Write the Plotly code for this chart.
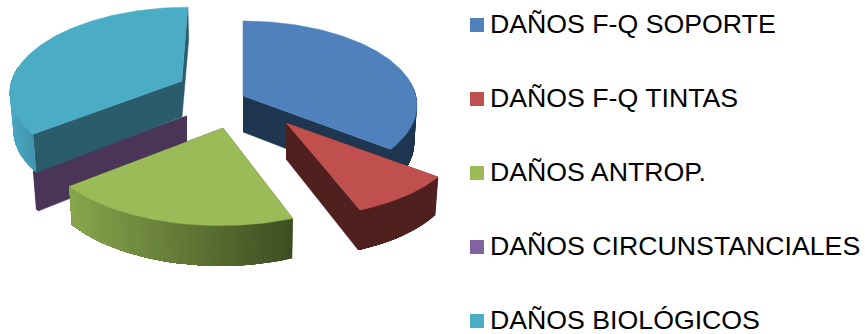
import numpy as np
import plotly.graph_objects as go

# ---- data ----
categories = ["DAÑOS F-Q SOPORTE", "DAÑOS F-Q TINTAS", "DAÑOS ANTROP.",
              "DAÑOS CIRCUNSTANCIALES", "DAÑOS BIOLÓGICOS"]
values = [35.3, 8.9, 20.1, 0.3, 35.4]

# ---- styles ----
top_colors = ["#4f81bd", "#c0504d", "#9bbb59", "#8064a2", "#4bacc6"]
cut_colors = ["#1e3650", "#4f201e", "#55692f", "#4a3558", "#2a5c6c"]
rim_left = ["#1e3650", "#4f201e", "#88a64c", "#4a3558", "#4aa8c3"]
rim_right = ["#1e3650", "#4f201e", "#3d4d22", "#4a3558", "#3f95ad"]
apex_x = [243, 286, 223, 187, 182]
apex_y = [96, 123, 128, 116, 81]
scale = [1.0, 1.01, 1.05, 1.02, 0.985]
draw_order = [3, 4, 0, 1, 2]
RX, RY, K, DEPTH, VX = 173, 83, 0.107, 36, 243
legend_x, legend_y = 477, [25, 99, 173, 247, 321]
text_y = [23.5, 97.5, 171.5, 245.5, 319.5]
FONT = "Liberation Sans"


def hex2rgb(c):
    return np.array([int(c[i:i + 2], 16) for i in (1, 3, 5)], float)


def mix(a, b, t):
    r = hex2rgb(a) * (1 - t) + hex2rgb(b) * t
    return "rgb(%d,%d,%d)" % tuple(r.round())


def top(i, th):
    th = np.radians(th)
    u, v = np.sin(th), np.cos(th)
    w = 1 / (1 + K * v)
    x = VX + (apex_x[i] - VX + RX * scale[i] * u) * w
    y = apex_y[i] - RY * scale[i] * v * w
    return x, y


def bottom(i, th, x, y):
    v = np.cos(np.radians(th))
    w = 1 / (1 + K * v)
    return x + (VX - x) * 0.015, y + DEPTH * w


def poly(fig, xs, ys, color, edge=0):
    fig.add_trace(go.Scatter(
        x=list(xs), y=list(ys), mode="lines", fill="toself", fillcolor=color,
        line=dict(color=color, width=edge), hoverinfo="skip", showlegend=False))


fig = go.Figure()
total = sum(values)
edges = np.concatenate([[0], np.cumsum(values)]) / total * 360

for i in draw_order:
    a0, a1 = edges[i], edges[i + 1]
    # flat cut walls
    for ang in (a0, a1):
        if i == 0 and ang == a0:
            continue
        rx, ry = top(i, ang)
        bx, by = bottom(i, ang, rx, ry)
        ax_, ay_ = apex_x[i], apex_y[i]
        bax, bay = ax_, ay_ + DEPTH
        poly(fig, [ax_, rx, bx, bax], [ay_, ry, by, bay], cut_colors[i], 0.5)
    # curved outer wall, front half only; each band runs to the wall's far end
    # so neighbouring bands overlap and no seams show
    lo, hi = max(a0, 80), min(a1, 280)
    if hi > lo:
        ths = np.linspace(lo, hi, max(2, int((hi - lo) / 1.5) + 1))
        pts = [top(i, t) for t in ths]
        bots = [bottom(i, t, *p) for t, p in zip(ths, pts)]
        xs = [p[0] for p in pts]
        minx, maxx = min(xs), max(xs)
        for j in range(len(ths) - 1):
            t = ((xs[j] + xs[j + 1]) / 2 - minx) / max(maxx - minx, 1)
            poly(fig, [p[0] for p in pts[j:]] + [b[0] for b in bots[j:]][::-1],
                 [p[1] for p in pts[j:]] + [b[1] for b in bots[j:]][::-1],
                 mix(rim_left[i], rim_right[i], t), 0)
    # top face
    ths = np.linspace(a0, a1, max(2, int(a1 - a0) + 2))
    pts = [top(i, t) for t in ths]
    poly(fig, [apex_x[i]] + [p[0] for p in pts], [apex_y[i]] + [p[1] for p in pts],
         cut_colors[i] if i == 3 else top_colors[i], 0.5)

# legend
fig.add_trace(go.Scatter(
    x=[legend_x] * len(categories), y=legend_y, mode="markers",
    marker=dict(symbol="square", size=14, color=top_colors, line=dict(width=0)),
    hoverinfo="skip", showlegend=False))
for name, y in zip(categories, text_y):
    fig.add_annotation(x=legend_x + 13, y=y, text=name, showarrow=False,
                       xanchor="left", yanchor="middle", xref="x", yref="y",
                       font=dict(family=FONT, size=26.7, color="#000000"),
                       borderpad=0, borderwidth=0)

fig.update_layout(
    width=865, height=334, autosize=False,
    margin=dict(l=0, r=0, t=0, b=0, pad=0),
    paper_bgcolor="white", plot_bgcolor="white", showlegend=False,
    xaxis=dict(range=[0, 865], visible=False, fixedrange=True),
    yaxis=dict(range=[334, 0], visible=False, fixedrange=True),
)
fig.write_html("out.html", config=dict(displayModeBar=False),
               post_script="document.body.style.margin='0';")
